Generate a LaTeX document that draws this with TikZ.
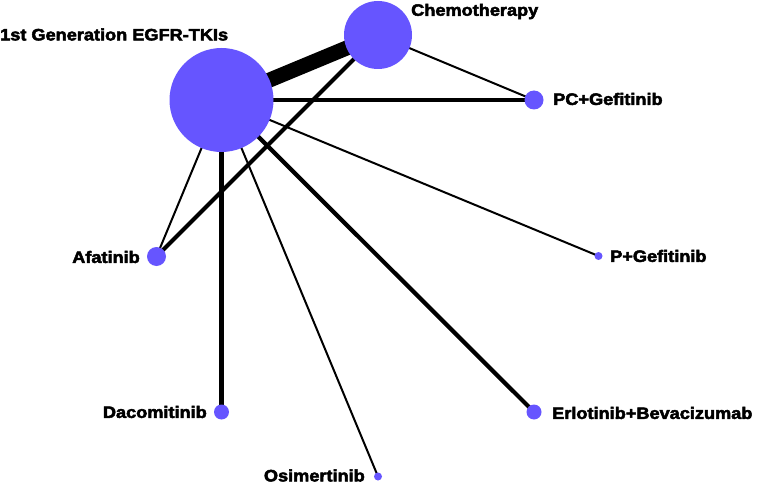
\documentclass[tikz,border=0pt]{standalone}
\usepackage{fontspec}
\setmainfont{Liberation Sans}[BoldFeatures={FakeStretch=1.1,FakeBold=3}]
\usetikzlibrary{backgrounds}
\definecolor{nodeblue}{RGB}{102,85,255}
\tikzset{
  trt/.style={circle, fill=nodeblue, draw=none, inner sep=0pt, minimum size=#1},
  lbl/.style={font=\fontsize{16.5}{19}\selectfont\bfseries, text=black, inner sep=0pt},
  thin edge/.style={line width=2pt},
  mid edge/.style={line width=4.2pt},
  big edge/.style={line width=15pt}
}
\begin{document}
\begin{tikzpicture}[x=1pt,y=-1pt]
\useasboundingbox (0,0) rectangle (761,484);
\node[trt=104pt] (gen) at (221.5,100) {};
\node[trt=68pt] (chemo) at (378,35) {};
\node[trt=19pt] (pcg) at (534,100) {};
\node[trt=8pt] (pg) at (598.5,256) {};
\node[trt=15pt] (erl) at (534,412) {};
\node[trt=8pt] (osi) at (378,476.5) {};
\node[trt=15pt] (dac) at (221.5,412) {};
\node[trt=19pt] (afa) at (156.5,256.5) {};

\begin{scope}[on background layer]
\draw[big edge] (gen.center) -- (chemo.center);
\draw[thin edge] (chemo.center) -- (pcg.center);
\draw[mid edge] (gen.center) -- (pcg.center);
\draw[mid edge] (chemo.center) -- (afa.center);
\draw[thin edge] (gen.center) -- (afa.center);
\draw[mid edge] (gen.center) -- (dac.center);
\draw[thin edge] (gen.center) -- (osi.center);
\draw[mid edge] (gen.center) -- (erl.center);
\draw[thin edge] (gen.center) -- (pg.center);
\end{scope}

\node[lbl, anchor=west] (lgen) at (0,34.5) {1st Generation EGFR-TKIs};
\node[lbl, anchor=west] (lchemo) at (411,11.5) {Chemotherapy};
\node[lbl, anchor=west] (lpcg) at (553,99) {PC+Gefitinib};
\node[lbl, anchor=west] (lpg) at (610,256) {P+Gefitinib};
\node[lbl, anchor=west] (lerl) at (552,413) {Erlotinib+Bevacizumab};
\node[lbl, anchor=east] (losi) at (365,475.5) {Osimertinib};
\node[lbl, anchor=east] (ldac) at (207,412) {Dacomitinib};
\node[lbl, anchor=east] (lafa) at (140,257) {Afatinib};
\end{tikzpicture}
\end{document}
